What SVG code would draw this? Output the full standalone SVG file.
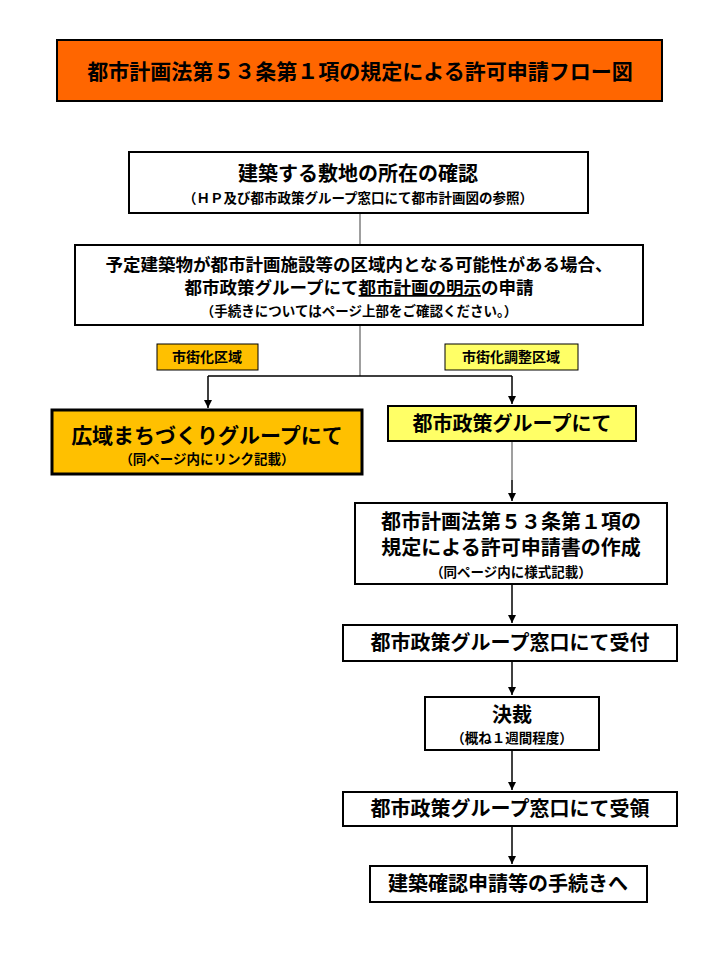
<svg xmlns="http://www.w3.org/2000/svg" width="720" height="960" viewBox="0 0 720 960">
<defs><marker id="ar" viewBox="0 0 10 10" refX="10" refY="5" markerWidth="8" markerHeight="8" markerUnits="userSpaceOnUse" orient="auto"><path d="M0,0L10,5L0,10z" fill="#000"/></marker></defs>
<style>
text{font-family:"Noto Sans CJK JP","Liberation Sans",sans-serif;text-anchor:middle;font-weight:bold;fill:#000}
.b{stroke:#000;stroke-width:2}
.t{font-size:20px}.s{font-size:13.5px}
.g{stroke:#808080;stroke-width:1.5;fill:none}
.k{stroke:#000;stroke-width:1.5;fill:none}
</style>
<rect width="720" height="960" fill="#fff"/>
<g id="title"><rect x="57" y="40" width="605" height="61" fill="#FF6600" class="b"/><text x="360" y="79" font-size="21">都市計画法第５３条第１項の規定による許可申請フロー図</text></g>
<g id="connectors">
<path class="g" d="M360,213V245M360,325V376M512,441V480"/>
<path class="k" d="M208,376H512M208,376V408" marker-end="url(#ar)"/>
<path class="k" d="M512,376V404" marker-end="url(#ar)"/>
<path class="k" d="M512,480V501" marker-end="url(#ar)"/>
<path class="k" d="M512,584V623" marker-end="url(#ar)"/>
<path class="k" d="M512,661V695" marker-end="url(#ar)"/>
<path class="k" d="M512,750V790" marker-end="url(#ar)"/>
<path class="k" d="M512,826V864" marker-end="url(#ar)"/>
</g>
<g id="n1"><rect x="129" y="152" width="459" height="61" fill="#fff" class="b"/><text class="t" x="358" y="181">建築する敷地の所在の確認</text><text class="s" x="358" y="203">（ＨＰ及び都市政策グループ窓口にて都市計画図の参照）</text></g>
<g id="n2"><rect x="75" y="245" width="568" height="80" fill="#fff" class="b"/><text x="359" y="271" font-size="17.5">予定建築物が都市計画施設等の区域内となる可能性がある場合、</text><text x="359" y="294" font-size="17.5">都市政策グループにて<tspan text-decoration="underline">都市計画の明示</tspan>の申請</text><text class="s" x="359" y="316" font-size="13">（手続きについてはページ上部をご確認ください。）</text></g>
<g id="l1"><rect x="157" y="344" width="101" height="26" fill="#FFC000" stroke="#000"/><text x="207" y="362" font-size="14">市街化区域</text></g>
<g id="l2"><rect x="445" y="344" width="133" height="26" fill="#FFFF66" stroke="#000"/><text x="511" y="362" font-size="14">市街化調整区域</text></g>
<g id="n3"><rect x="52" y="410" width="310" height="64" fill="#FFC000" stroke="#000" stroke-width="3"/><text x="207" y="443" font-size="21">広域まちづくりグループにて</text><text class="s" x="207" y="464">（同ページ内にリンク記載）</text></g>
<g id="n4"><rect x="388" y="406" width="248" height="35" fill="#FFFF66" class="b"/><text x="512" y="431" font-size="20">都市政策グループにて</text></g>
<g id="n5"><rect x="355" y="503" width="312" height="81" fill="#fff" class="b"/><text class="t" x="511" y="529">都市計画法第５３条第１項の</text><text class="t" x="511" y="555">規定による許可申請書の作成</text><text class="s" x="511" y="577">（同ページ内に様式記載）</text></g>
<g id="n6"><rect x="343" y="625" width="334" height="36" fill="#fff" class="b"/><text class="t" x="510" y="650">都市政策グループ窓口にて受付</text></g>
<g id="n7"><rect x="425" y="697" width="174" height="53" fill="#fff" class="b"/><text class="t" x="512" y="722">決裁</text><text class="s" x="512" y="743">（概ね１週間程度）</text></g>
<g id="n8"><rect x="343" y="792" width="334" height="34" fill="#fff" class="b"/><text class="t" x="510" y="816">都市政策グループ窓口にて受領</text></g>
<g id="n9"><rect x="370" y="866" width="277" height="36" fill="#fff" class="b"/><text class="t" x="508" y="891">建築確認申請等の手続きへ</text></g>
</svg>
